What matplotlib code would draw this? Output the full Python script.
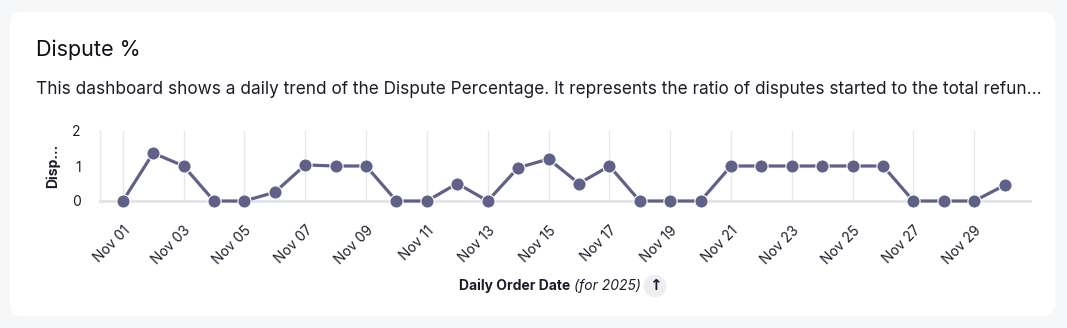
import matplotlib.pyplot as plt
from matplotlib.patches import FancyBboxPatch
import pandas as pd

plt.rcParams['font.family'] = ['Inter', 'DejaVu Sans']

# daily dispute % for Nov 2025
days = pd.date_range('2025-11-01', '2025-11-30', freq='D')
dispute_pct = [0, 1.37, 1.0, 0, 0, 0.25, 1.03, 1.0, 1.0, 0,
               0, 0.5, 0, 0.95, 1.2, 0.5, 1.0, 0, 0, 0,
               1.0, 1.0, 1.0, 1.0, 1.0, 1.0, 0, 0, 0, 0.45]
tick_days = days[::2]
tick_labels = [d.strftime('Nov %d') for d in tick_days]
y_ticks = [0, 1, 2]

line_col = '#5f6189'
text_col = '#1a1d29'

W, H = 1067, 328
fig = plt.figure(figsize=(W / 100, H / 100), dpi=100)
fig.patch.set_facecolor('#f6f7f9')

card = FancyBboxPatch((10 / W, 12 / H), 1045 / W, 304 / H,
                      boxstyle='round,pad=0,rounding_size=0.012',
                      transform=fig.transFigure, facecolor='white',
                      edgecolor='none', mutation_aspect=W / H, zorder=-10)
fig.patches.append(card)

fig.text(36 / W, 1 - 50 / H, 'Dispute %', fontsize=15.5, color='#0d0f17', va='center')
fig.text(36 / W, 1 - 89 / H,
         'This dashboard shows a daily trend of the Dispute Percentage. It represents the ratio of disputes started to the total refun\u2026',
         fontsize=12.4, color=text_col, va='center')

ax = fig.add_axes([100 / W, 127 / H, 930 / W, 70 / H])
ax.set_facecolor('none')
ax.plot(days, dispute_pct, color=line_col, lw=2.3, marker='o', ms=9.5,
        markeredgecolor='white', markeredgewidth=0.8, zorder=3, clip_on=False)

ax.set_xlim(days[0] - pd.Timedelta(hours=18), days[-1] + pd.Timedelta(hours=20))
ax.set_ylim(0, 2)
ax.set_xticks(tick_days)
ax.set_xticklabels(tick_labels, rotation=45, ha='right', rotation_mode='anchor',
                   fontsize=10, color=text_col)
ax.set_yticks(y_ticks)
ax.set_yticklabels([str(v) for v in y_ticks], fontsize=10, color=text_col)
ax.tick_params(axis='y', length=0, pad=14)
ax.tick_params(axis='x', length=0, pad=16)
ax.grid(axis='x', color='#e6e7eb', lw=1)
for s in ['top', 'right']:
    ax.spines[s].set_visible(False)
ax.spines['left'].set_color('#e6e7eb')
ax.spines['left'].set_linewidth(1)
ax.spines['bottom'].set_color('#e2e3e7')
ax.spines['bottom'].set_linewidth(2)

ax.set_ylabel('Disp...', fontsize=10, fontweight='bold', color=text_col, labelpad=8)

fig.text(459 / W, 1 - 286 / H, 'Daily Order Date', fontsize=10, fontweight='bold',
         color=text_col, ha='left', va='center')
fig.text(574 / W, 1 - 286 / H, '(for 2025)', fontsize=10, style='italic',
         color=text_col, ha='left', va='center')
fig.text(655 / W, 1 - 286 / H, '\u2191', fontsize=11, fontweight='bold',
         family='DejaVu Sans', color=text_col, ha='center', va='center',
         bbox=dict(boxstyle='circle,pad=0.25', fc='#eceef2', ec='none'))

fig.savefig('out.png', dpi=100, facecolor=fig.get_facecolor())
